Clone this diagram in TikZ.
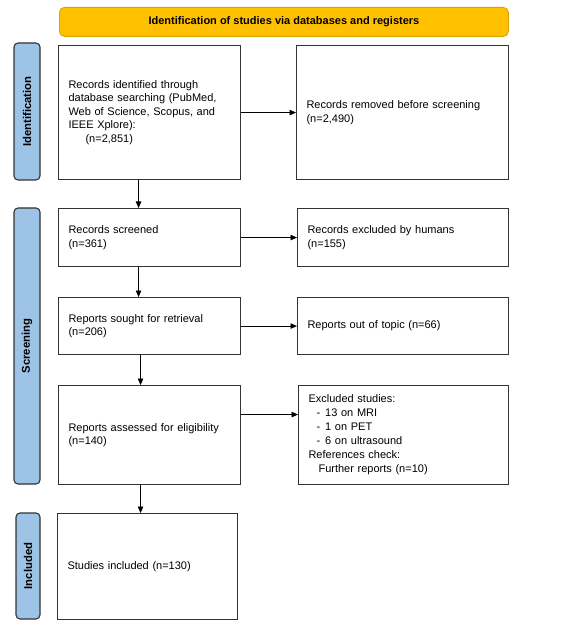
\documentclass[tikz,border=0pt]{standalone}
\usepackage{fontspec}
\setmainfont{Liberation Sans}
\usetikzlibrary{arrows.meta,calc}
\definecolor{bannerfill}{HTML}{FFC000}
\definecolor{bannerdraw}{HTML}{D9A300}
\definecolor{labelblue}{HTML}{9DC3E6}
\definecolor{edgegray}{HTML}{333333}
\begin{document}
\begin{tikzpicture}[x=1pt,y=-1pt,
  box/.style={draw=edgegray, line width=1.1pt, fill=white, anchor=north west, align=left,
    inner xsep=10pt, inner ysep=0pt, font=\fontsize{11}{13.6}\selectfont},
  phase/.style={draw=edgegray, line width=1.1pt, fill=labelblue, rounded corners=4pt, rotate=90,
    inner sep=0pt, minimum height=26pt, font=\bfseries\fontsize{11.3}{13}\selectfont},
  banner/.style={draw=bannerdraw, line width=0.8pt, fill=bannerfill, rounded corners=5pt,
    anchor=north west, inner sep=0pt, font=\bfseries\fontsize{11}{13}\selectfont},
  arr/.style={-{Triangle[length=6.5pt,width=5.5pt]}, line width=0.9pt, black}]
\useasboundingbox (0,0) rectangle (581,628);

% banner
\node[banner, minimum width=449pt, minimum height=29pt] (ban) at (59,7)
  {Identification of studies via databases and registers};

% phase labels
\node[phase, minimum width=137pt] (pid) at (27,111.5) {Identification};
\node[phase, minimum width=276pt] (psc) at (27,346) {Screening};
\node[phase, minimum width=106pt, minimum height=24pt] (pin) at (28,566) {Included};

% left column
\node[box, minimum width=182pt, text width=162pt, minimum height=134pt] (b1) at (58,45)
  {Records identified through\\database searching (PubMed,\\Web of Science, Scopus, and\\IEEE Xplore):\\\hspace*{17pt}(n=2,851)};
\node[box, minimum width=182pt, text width=162pt, minimum height=58pt] (b3) at (58,208)
  {Records screened\\(n=361)};
\node[box, minimum width=182pt, text width=162pt, minimum height=57pt] (b5) at (58,297)
  {Reports sought for retrieval\\(n=206)};
\node[box, minimum width=182pt, text width=162pt, minimum height=99pt] (b7) at (58,385)
  {Reports assessed for eligibility\\(n=140)};
\node[box, minimum width=180pt, text width=160pt, minimum height=106pt] (b9) at (57,513)
  {Studies included (n=130)};

% right column
\node[box, minimum width=212pt, text width=192pt, minimum height=134pt] (b2) at (296,45)
  {Records removed before screening\\(n=2,490)};
\node[box, minimum width=211pt, text width=191pt, minimum height=58pt] (b4) at (297,208)
  {Records excluded by humans\\(n=155)};
\node[box, minimum width=211pt, text width=191pt, minimum height=57pt] (b6) at (297,297)
  {Reports out of topic (n=66)};
\node[box, minimum width=210pt, text width=190pt, minimum height=99pt,
      font=\fontsize{11}{14}\selectfont] (b8) at (298,385)
  {Excluded studies:\\
   \hspace*{8pt}-\hspace{5pt}13 on MRI\\
   \hspace*{8pt}-\hspace{5pt}1 on PET\\
   \hspace*{8pt}-\hspace{5pt}6 on ultrasound\\
   References check:\\
   \hspace*{10pt}Further reports (n=10)};

% horizontal arrows
\draw[arr] (b1.east) -- (b2.west);
\draw[arr] (b3.east) -- (b4.west);
\draw[arr] (b5.east) -- (b6.west);
\draw[arr] ([yshift=20.5pt]b7.east) -- ([yshift=20.5pt]b7.east -| b8.west);

% vertical arrows
\draw[arr] ([xshift=-11pt]b1.south) -- ([xshift=-11pt]b1.south |- b3.north);
\draw[arr] ([xshift=-11pt]b3.south) -- ([xshift=-11pt]b3.south |- b5.north);
\draw[arr] ([xshift=-9pt]b5.south) -- ([xshift=-9pt]b5.south |- b7.north);
\draw[arr] ([xshift=-9pt]b7.south) -- ([xshift=-9pt]b7.south |- b9.north);
\end{tikzpicture}
\end{document}
